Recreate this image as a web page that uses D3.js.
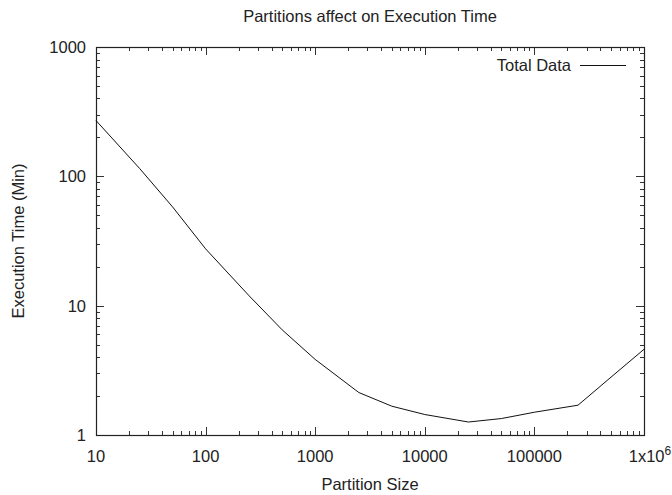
<!DOCTYPE html>
<html>
<head>
<meta charset="utf-8">
<script src="https://cdn.jsdelivr.net/npm/d3@7"></script>
<style>
	body { margin: 0; background: #fff; }
	svg { font-family: 'Liberation Sans', Arial, sans-serif; }
	text { fill: #222; }
</style>
</head>
<body>
<div id="chart"></div>
<script>

// partition sizes and execution time (minutes)
var partitionSizes = [10, 25, 50, 100, 250, 500, 1000, 2500, 5000, 10000, 25000, 50000, 100000, 250000, 500000, 1000000]
var execTimes = [270, 115, 58, 27.5, 11.9, 6.5, 3.84, 2.13, 1.67, 1.44, 1.26, 1.34, 1.5, 1.70, 2.8, 4.6]

var xTickValues = [10, 100, 1000, 10000, 100000, 1000000]
var xTickLabels = ['10', '100', '1000', '10000', '100000', '1x10']
var yTickValues = [1, 10, 100, 1000]
var yTickLabels = ['1', '10', '100', '1000']

var seriesName = 'Total Data'
var title = 'Partitions affect on Execution Time'
var xTitle = 'Partition Size'
var yTitle = 'Execution Time (Min)'

function makeLogChart(container) {

	var margin = { top: 47, bottom: 60, left: 96, right: 28 }
	var divwidth = 672, divheight = 495
	var width = divwidth - margin.left - margin.right
	var height = divheight - margin.top - margin.bottom
	var fontSize = '16.5px'

	var xScale = d3.scaleLog()
		.domain([10, 1000000])
		.range([0, width])

	var yScale = d3.scaleLog()
		.domain([1, 1000])
		.range([height, 0])

	// minor ticks 2..9 for each decade
	var xMinor = []
	for (var d = 10; d < 1000000; d *= 10) {
		for (var k = 2; k < 10; k++) xMinor.push(d * k)
	}
	var yMinor = []
	for (var d = 1; d < 1000; d *= 10) {
		for (var k = 2; k < 10; k++) yMinor.push(d * k)
	}

	var svg = d3.select(container).append('svg')
		.attr('width', divwidth)
		.attr('height', divheight)

	var g = svg.append('g')
		.attr('transform', 'translate(' + margin.left + ',' + margin.top + ')')

	var tickColor = '#333'

	// bottom & top ticks (pointing inward)
	function drawXTicks(values, len) {
		values.forEach(function(v) {
			var x = Math.round(xScale(v)) + 0.5
			g.append('line').attr('x1', x).attr('x2', x).attr('y1', height).attr('y2', height - len)
				.attr('stroke', tickColor)
			g.append('line').attr('x1', x).attr('x2', x).attr('y1', 0).attr('y2', len)
				.attr('stroke', tickColor)
		})
	}
	function drawYTicks(values, len) {
		values.forEach(function(v) {
			var y = Math.round(yScale(v)) + 0.5
			g.append('line').attr('x1', 0).attr('x2', len).attr('y1', y).attr('y2', y)
				.attr('stroke', tickColor)
			g.append('line').attr('x1', width).attr('x2', width - len).attr('y1', y).attr('y2', y)
				.attr('stroke', tickColor)
		})
	}
	drawXTicks(xMinor, 4)
	drawXTicks(xTickValues, 8)
	drawYTicks(yMinor, 4)
	drawYTicks(yTickValues, 8)

	// frame
	g.append('rect')
		.attr('x', 0.5)
		.attr('y', 0.5)
		.attr('width', width)
		.attr('height', height)
		.attr('fill', 'none')
		.attr('stroke', '#222')
		.attr('stroke-width', 1.2)

	// x tick labels
	xTickValues.forEach(function(v, i) {
		var t = g.append('text')
			.attr('x', xScale(v))
			.attr('y', height + 27)
			.attr('text-anchor', 'middle')
			.style('font-size', fontSize)
			.text(xTickLabels[i])
		if (v === 1000000) {
			t.attr('x', xScale(v) + 6)
			t.append('tspan').attr('dy', -7).style('font-size', '12px').text('6')
		}
	})

	// y tick labels
	yTickValues.forEach(function(v, i) {
		g.append('text')
			.attr('x', -10)
			.attr('y', yScale(v) + 6)
			.attr('text-anchor', 'end')
			.style('font-size', fontSize)
			.text(yTickLabels[i])
	})

	// data line
	var line = d3.line()
		.x(function(d, i) { return xScale(partitionSizes[i]) })
		.y(function(d) { return yScale(d) })

	g.append('path')
		.datum(execTimes)
		.attr('fill', 'none')
		.attr('stroke', '#111')
		.attr('stroke-width', 1)
		.attr('d', line)

	// legend
	g.append('text')
		.attr('x', width - 73)
		.attr('y', 24)
		.attr('text-anchor', 'end')
		.style('font-size', fontSize)
		.text(seriesName)
	g.append('line')
		.attr('x1', width - 64)
		.attr('x2', width - 18)
		.attr('y1', 18.5)
		.attr('y2', 18.5)
		.attr('stroke', '#111')

	// titles
	svg.append('text')
		.attr('x', margin.left + width / 2)
		.attr('y', 22)
		.attr('text-anchor', 'middle')
		.style('font-size', fontSize)
		.text(title)
	svg.append('text')
		.attr('x', margin.left + width / 2)
		.attr('y', 490)
		.attr('text-anchor', 'middle')
		.style('font-size', fontSize)
		.text(xTitle)
	svg.append('text')
		.attr('transform', 'rotate(-90)')
		.attr('x', -(margin.top + height / 2))
		.attr('y', 24)
		.attr('text-anchor', 'middle')
		.style('font-size', fontSize)
		.text(yTitle)
}

makeLogChart(document.getElementById('chart'))
</script>
</body>
</html>
